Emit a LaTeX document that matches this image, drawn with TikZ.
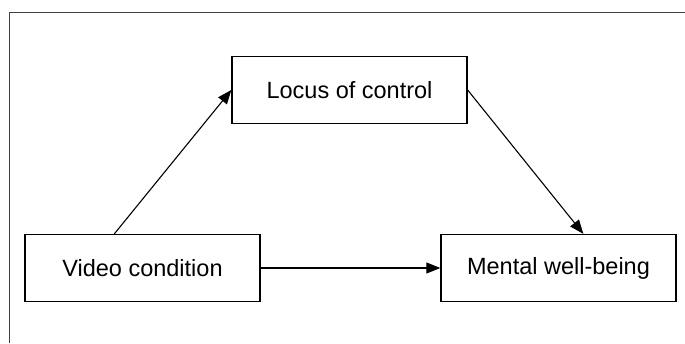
\documentclass[tikz,border=0pt]{standalone}
\usepackage{fontspec}
\setmainfont{Liberation Sans}
\usetikzlibrary{arrows.meta,calc}
\begin{document}
\begin{tikzpicture}[x=1pt,y=-1pt,
  box/.style={draw=black,line width=1.3pt,minimum width=235pt,minimum height=67pt,inner sep=0pt,font=\fontsize{23.5}{28}\selectfont},
  conn/.style={draw=black,line width=1.1pt,-{Triangle[length=14pt,width=11pt]}}]
\useasboundingbox (0,0) rectangle (685,343);
\fill[white] (0,0) rectangle (685,343);
\draw[line width=1pt,color=black!75] (9,343) -- (9,12.5) -- (685,12.5);
\node[box] (locus) at (349.5,90) {Locus of control};
\node[box] (video) at (142.5,268) {Video condition};
\node[box] (mental) at (558.5,268) {Mental well-being};
\draw[conn] ($(video.north west)+(90,0)$) -- (locus.west);
\draw[conn] (locus.east) -- ($(mental.north west)+(143,0)$);
\draw[conn] (video.east) -- (mental.west);
\end{tikzpicture}
\end{document}
